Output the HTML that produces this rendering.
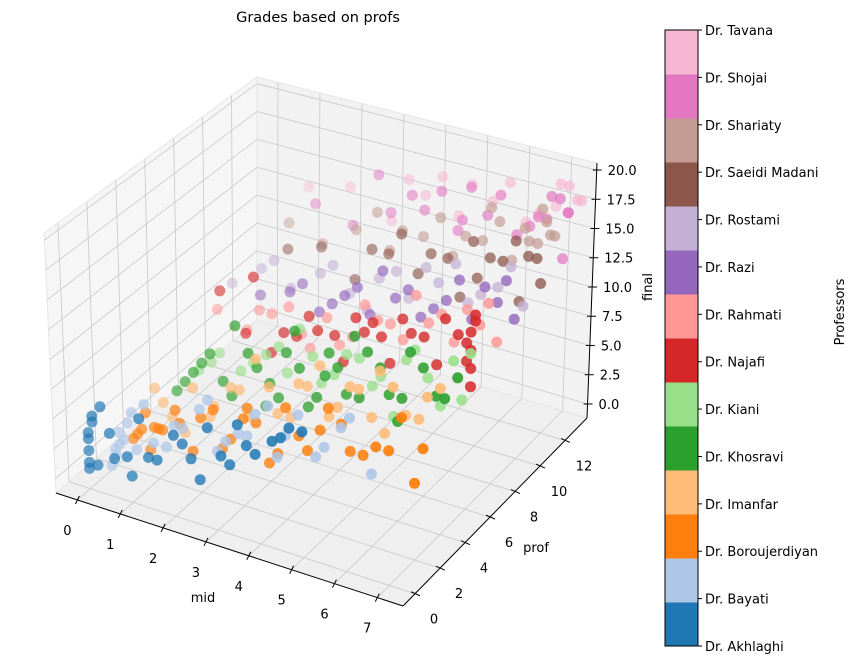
<!DOCTYPE html>
<html><head><meta charset="utf-8"><style>
body{margin:0;background:#fff;}
svg{display:block;font-family:"DejaVu Sans","Liberation Sans",sans-serif;}
</style></head><body>
<svg id="chart" width="856" height="664" viewBox="0 0 856 664" xmlns="http://www.w3.org/2000/svg">
<text x="318" y="22" text-anchor="middle" font-size="14.5" fill="#000">Grades based on profs</text>
<g id="panes"></g>
<g id="grid"></g>
<g id="axes"></g>
<g id="points"></g>
<g id="cbar"></g>
<text x="203" y="602" text-anchor="middle" font-size="13">mid</text>
<text x="536" y="552" text-anchor="middle" font-size="13">prof</text>
<text transform="translate(652,287) rotate(-90)" text-anchor="middle" font-size="13">final</text>
<text transform="translate(844,312) rotate(-90)" text-anchor="middle" font-size="13">Professors</text>
</svg>
<script>
const professors = ["Dr. Akhlaghi","Dr. Bayati","Dr. Boroujerdiyan","Dr. Imanfar","Dr. Khosravi","Dr. Kiani","Dr. Najafi","Dr. Rahmati","Dr. Razi","Dr. Rostami","Dr. Saeidi Madani","Dr. Shariaty","Dr. Shojai","Dr. Tavana"];
const colors = ["#1f77b4","#aec7e8","#ff7f0e","#ffbb78","#2ca02c","#98df8a","#d62728","#ff9896","#9467bd","#c5b0d5","#8c564b","#c49c94","#e377c2","#f7b6d2"];
const midTicks = [0,1,2,3,4,5,6,7];
const profTicks = [0,2,4,6,8,10,12];
const finalTicks = [0,2.5,5,7.5,10,12.5,15,17.5,20];
const midValues = [
 [0,0,0,0.1,0.2,0.5,0.9,1.2,1.6,2.0,2.4,2.8,3.1,3.5,3.9,4.3,4.7,1.0,0,0,0.1,0.3,0.6,1.4,2.2,2.6,3.3,3.7,4.5,5.0],
 [0.3,0.4,0.4,0.6,1.0,1.5,1.9,2.3,2.7,3.2,3.6,4.1,4.6,5.2,5.8,6.3,0.8,2.5,0.2,0.3,0.5,1.2,1.7,2.9,3.4,4.3,5.0,5.6,0.7,3.9],
 [0.5,0.7,1.0,1.4,1.8,2.3,2.7,3.1,3.6,4.0,4.5,5.0,5.5,6.1,6.7,7.2,2.0,3.3,0.4,0.6,0.8,1.1,1.5,2.5,3.0,3.8,4.3,4.8,5.3,5.8,6.4,7.0,0.9],
 [0.6,1.0,1.5,1.9,2.4,2.8,3.3,3.8,4.2,4.7,5.2,5.7,6.2,6.8,7.3,3.0,4.5,5.9,0.8,1.3,2.0,2.6,3.5,4.0,4.9,5.4,6.0,6.5,7.0],
 [0.8,1.2,1.6,2.1,2.5,3.0,3.4,3.9,4.4,4.8,5.3,5.8,6.3,6.9,7.4,2.2,3.6,5.0,6.0,1.0,1.4,1.9,2.7,3.2,3.7,4.1,4.6,5.1,5.6,6.1,6.6,7.1,2.9,4.3],
 [1.0,1.5,2.0,2.6,3.1,3.7,4.2,4.8,5.3,5.9,6.4,7.0,7.4,3.4,5.6,6.7,1.3,2.3,2.9,3.9,4.5,5.1,6.1,7.2],
 [1.2,1.8,2.4,3.0,3.5,4.1,4.6,5.2,5.7,6.3,6.8,7.1,7.1,7.1,7.1,7.2,2.0,4.8,2.7,3.3,3.9,4.4,5.0,5.5,6.0,6.5,7.0,7.0,7.2],
 [0.8,1.5,2.1,2.8,3.4,4.0,4.6,5.2,5.8,6.4,7.0,7.4,3.0,5.5,1.8,2.5,3.7,4.3,4.9,6.1,6.7,7.2],
 [1.5,2.2,2.9,3.5,4.1,4.7,5.3,5.9,6.5,7.1,7.5,4.4,6.2,2.5,3.2,3.8,5.0,5.6,6.8,7.3],
 [0.5,1.2,1.9,2.6,3.3,4.0,4.7,5.4,6.1,6.8,7.4,3.7,5.8,1.5,2.9,4.4,5.1,6.4,7.1],
 [1.5,2.3,3.1,3.9,4.6,5.3,6.0,6.6,7.2,7.5,7.0,5.6,4.2,3.5,4.9,5.9,6.3,6.9,7.4],
 [1.2,2.0,2.8,3.6,4.4,5.1,5.8,6.5,7.1,7.5,7.3,6.8,4.8,3.3,3.9,5.4,6.2,6.9,7.2,7.4,6.0],
 [1.5,2.4,3.3,4.1,4.9,5.6,6.3,7.0,7.5,7.3,6.6,5.2,3.8,7.4,4.5,5.0,5.9,6.8,7.1,7.5,3.0],
 [1.0,2.0,3.0,3.8,4.6,5.4,6.2,6.9,7.5,4.2,5.8,7.2,3.4,4.9,6.5,7.0,7.4]
];
const finalValues = [
 [0.5,2,3.5,5,1,4,2.5,6,3,5.5,4,7,5,8,6,7.5,9,1,1,3,4.5,6,2,3,5,2.5,4.5,6.5,8,9],
 [1,2,3,4,6,3,5,7,4,6,8,5,9,7,10,6,2,8,0,1.5,2.5,3,5,5,6,7,6,9,5,9],
 [2,4,3,5,2,6,4,7,3,8,5,9,6,7,10,8,5,6,1.5,2.5,1,3,4,3,6,4,6,7,8,6,7,5,3],
 [5,3,6,4,7,5,8,6,9,7,10,8,11,9,12,10,11,12,4,2,5,7,6,9,8,10,7,9,11],
 [4,6,8,5,9,7,10,6,11,8,12,9,13,10,12,11,12,13,7,5,7,6,8,6,9,7,10,8,11,9,12,10,5,9],
 [5,7,6,8,7,9,8,10,9,11,10,12,13,11,6,8,6,7,9,7,10,8,12,9],
 [11,8,7,9,10,8,11,9,12,10,13,9,10.5,12,13.5,14.5,13,12,9,11,10,12,11,13,12,14,11,12.5,15],
 [8,7,9,8,10,9,11,10,12,11,13,12,7,14,9,10,8,12,11,13,14,15],
 [9,10,9,11,10,12,11,13,12,14,13,14,15,11,10,12,13,12,15,16],
 [8,10,9,11,10,12,11,13,12,14,13,9,15,11,12,13,14,13,16],
 [11,12,10,13,12,14,13,15,16,14,12,11,15,13,14,16,15,17,16],
 [12,11,13,12,14,13,15,14,16,17,18,17,16,15,14,15,17,16,19,17,18],
 [13,12,14,15,14,16,15,17,18,19,16,18,16,14,17,15,18,17,19,18,17],
 [13,14,12,15,14,16,15,17,18,17,18,19,16,17,16,19,18]
];
const NS="http://www.w3.org/2000/svg";
const MID=[-0.5,7.6], PROF=[-0.96,13.76], FIN=[-1.2,20.6];
const C={P000:[56,493],P100:[403,606],P110:[587,418],P010:[257,320],P001:[44,233],P101:[401,331],P111:[597,163],P011:[257,77]};
function lerp(a,b,t){return [a[0]+(b[0]-a[0])*t,a[1]+(b[1]-a[1])*t];}
function proj(m,p,f){
 const u=(m-MID[0])/(MID[1]-MID[0]),v=(p-PROF[0])/(PROF[1]-PROF[0]),w=(f-FIN[0])/(FIN[1]-FIN[0]);
 const b=lerp(lerp(C.P000,C.P100,u),lerp(C.P010,C.P110,u),v);
 const t=lerp(lerp(C.P001,C.P101,u),lerp(C.P011,C.P111,u),v);
 return lerp(b,t,w);
}
function el(tag,attrs,parent){const e=document.createElementNS(NS,tag);for(const k in attrs)e.setAttribute(k,attrs[k]);parent.appendChild(e);return e;}
const panes=document.getElementById('panes'),grid=document.getElementById('grid'),axes=document.getElementById('axes'),pts=document.getElementById('points'),cbar=document.getElementById('cbar');
function poly(ps,fill,parent){return el('polygon',{points:ps.map(p=>p.join(',')).join(' '),fill:fill,stroke:'#e6e6e6','stroke-width':1},parent);}
const leftPane=poly([C.P000,C.P010,C.P011,C.P001],'#f6f6f6',panes);


const backPane=poly([C.P010,C.P110,C.P111,C.P011],'#f2f2f2',panes);


const floorPane=poly([C.P000,C.P100,C.P110,C.P010],'#efefef',panes);


function line(a,b,stroke,sw,parent){return el('line',{x1:a[0],y1:a[1],x2:b[0],y2:b[1],stroke:stroke,'stroke-width':sw},parent);}
const gc='#c8c8c8';
midTicks.forEach(m=>{
 const g1=line(proj(m,PROF[0],FIN[0]),proj(m,PROF[1],FIN[0]),gc,0.8,grid);
 
 
 const g2=line(proj(m,PROF[1],FIN[0]),proj(m,PROF[1],FIN[1]),gc,0.8,grid);
 
 
});
profTicks.forEach(p=>{
 const g1=line(proj(MID[0],p,FIN[0]),proj(MID[1],p,FIN[0]),gc,0.8,grid);
 
 
 const g2=line(proj(MID[0],p,FIN[0]),proj(MID[0],p,FIN[1]),gc,0.8,grid);
 
 
});
finalTicks.forEach(f=>{
 const g1=line(proj(MID[0],PROF[0],f),proj(MID[0],PROF[1],f),gc,0.8,grid);
 
 
 const g2=line(proj(MID[0],PROF[1],f),proj(MID[1],PROF[1],f),gc,0.8,grid);
 
 
});
const ax1=line(C.P000,C.P100,'#000',1,axes);


const ax2=line(C.P100,C.P110,'#000',1,axes);


const ax3=line(C.P110,C.P111,'#000',1,axes);


function txt(x,y,s,anchor,parent){const t=el('text',{x:x,y:y,'font-size':13,'text-anchor':anchor,fill:'#000'},parent);t.textContent=s;return t;}
midTicks.forEach(m=>{
 const p=proj(m,PROF[0],FIN[0]);
 const tk=line([p[0]+2,p[1]-4],[p[0]-2,p[1]+4],'#000',1,axes);
 
 
 const t=txt(p[0]-10,p[1]+35,String(m),'middle',axes);
 
 
});
profTicks.forEach(pv=>{
 const p=proj(MID[1],pv,FIN[0]);
 const tk=line([p[0]-4,p[1]-2],[p[0]+5,p[1]+2],'#000',1,axes);
 
 
 const t=txt(p[0]+19,p[1]+30,String(pv),'middle',axes);
 
 
});
finalTicks.forEach(f=>{
 const p=proj(MID[1],PROF[1],f);
 const tk=line([p[0]-4,p[1]],[p[0]+5,p[1]],'#000',1,axes);
 
 
 const t=txt(p[0]+11,p[1]+5,f.toFixed(1),'start',axes);
 
 
});
const list=[];
midValues.forEach((ms,k)=>{ms.forEach((m,i)=>{list.push({k:k,m:m,f:finalValues[k][i]});});});
list.forEach(d=>{
 const u=(d.m-MID[0])/(MID[1]-MID[0]),v=(d.k-PROF[0])/(PROF[1]-PROF[0]);
 d.depth=(1-u)+v;
});
list.sort((a,b)=>b.depth-a.depth);
const dmin=Math.min(...list.map(d=>d.depth)),dmax=Math.max(...list.map(d=>d.depth));
list.forEach(d=>{
 const p=proj(d.m,d.k,d.f);
 const a=0.95-0.55*(d.depth-dmin)/(dmax-dmin);
 const c=el('circle',{cx:p[0].toFixed(1),cy:p[1].toFixed(1),r:5.5,fill:colors[d.k],'fill-opacity':a.toFixed(2)},pts);
 
 
});
const cbX=665,cbW=33,cbTop=30,cbBot=646,n=professors.length,bh=(cbBot-cbTop)/n;
colors.forEach((col,k)=>{
 const r=el('rect',{x:cbX,y:cbBot-(k+1)*bh,width:cbW,height:bh+0.5,fill:col},cbar);
 
 
});
const fr=el('rect',{x:cbX,y:cbTop,width:cbW,height:cbBot-cbTop,fill:'none',stroke:'#000','stroke-width':1},cbar);


professors.forEach((name,k)=>{
 const y=cbBot-k*(cbBot-cbTop)/(n-1);
 const tk=line([cbX+cbW,y],[cbX+cbW+4,y],'#000',1,cbar);
 
 
 const t=txt(cbX+cbW+7,y+5,name,'start',cbar);
 
 
});
</script>
</body></html>
